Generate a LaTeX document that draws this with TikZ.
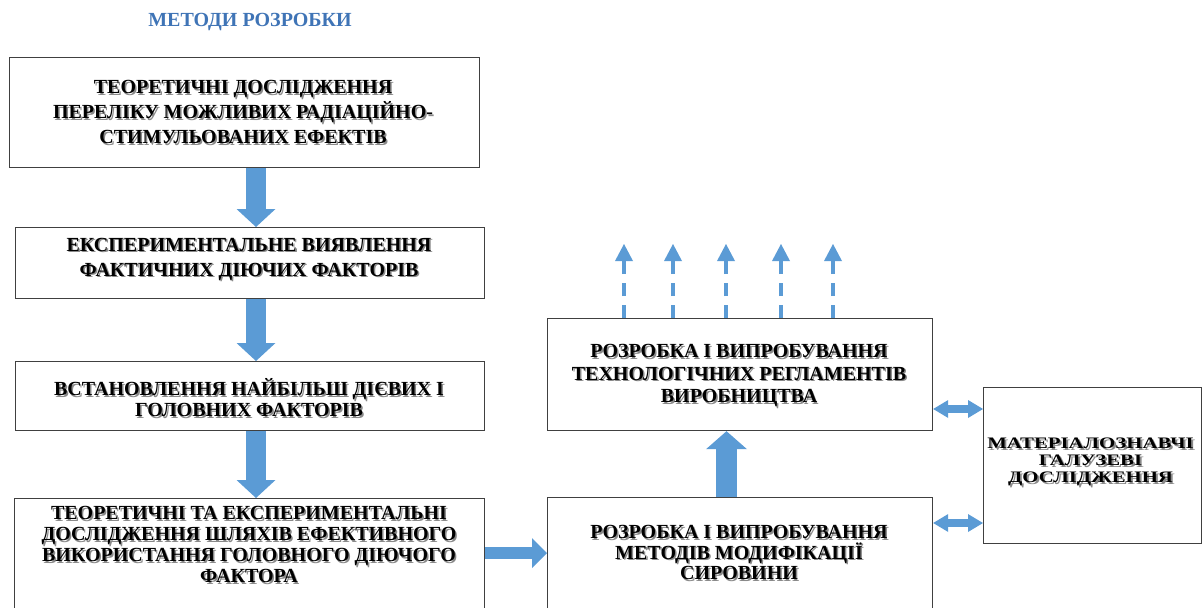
\documentclass[tikz,border=0pt]{standalone}
\usepackage{fontspec}
\setmainfont{Liberation Serif}
\usetikzlibrary{arrows.meta,calc}
\definecolor{arrowblue}{HTML}{5B9BD5}
\definecolor{titleblue}{HTML}{3F74B6}
\definecolor{boxline}{HTML}{404040}
\definecolor{shadowgray}{HTML}{8A8A8A}
% text with a soft drop shadow, one line at a time
\newcommand{\sh}[1]{\makebox[0pt][l]{\hspace{1.5pt}\raisebox{-1.5pt}{\textcolor{shadowgray}{#1}}}#1}
% wide variant for the narrow right-hand box
\newcommand{\wsh}[1]{\scalebox{1.3}[1]{\sh{#1}}}
\begin{document}
\begin{tikzpicture}[x=1pt,y=-1pt,
  box/.style={draw=boxline, line width=1.2pt, fill=white, inner sep=0, anchor=north west},
  txt/.style={align=center, inner sep=0, font=\bfseries\fontsize{20}{#1}\selectfont},
  txt/.default=21,
  blockarrow/.style 2 args={draw=arrowblue, line width=#1,
    -{Triangle[width=#2, length=18pt, line width=0pt]}},
  twoway/.style={draw=arrowblue, line width=8pt,
    {Triangle[width=18pt, length=15pt, line width=0pt]}-{Triangle[width=18pt, length=15pt, line width=0pt]}},
  dashedarrow/.style={draw=arrowblue, line width=4pt, dash pattern=on 13pt off 9pt,
    -{Triangle[width=18pt, length=17pt, line width=0pt]}}]
\useasboundingbox (0,0) rectangle (1203,608);
\clip (0,0) rectangle (1203,608);

% title
\node[font=\bfseries\fontsize{20}{22}\selectfont, text=titleblue] (title) at (250,22) {МЕТОДИ РОЗРОБКИ};

% boxes of the left column
\node[box, minimum width=470pt, minimum height=110pt] (b1) at (9,57) {};
\node[txt=25] (t1) at (243,113) {\sh{ТЕОРЕТИЧНІ ДОСЛІДЖЕННЯ}\\\sh{ПЕРЕЛІКУ МОЖЛИВИХ РАДІАЦІЙНО-}\\\sh{СТИМУЛЬОВАНИХ ЕФЕКТІВ}};

\node[box, minimum width=469pt, minimum height=71pt] (b2) at (15,227) {};
\node[txt=25] (t2) at (249,260) {\sh{ЕКСПЕРИМЕНТАЛЬНЕ ВИЯВЛЕННЯ}\\\sh{ФАКТИЧНИХ ДІЮЧИХ ФАКТОРІВ}};

\node[box, minimum width=469pt, minimum height=69pt] (b3) at (15,361) {};
\node[txt=21] (t3) at (249,398.5) {\sh{ВСТАНОВЛЕННЯ НАЙБІЛЬШ ДІЄВИХ І}\\\sh{ГОЛОВНИХ ФАКТОРІВ}};

\node[box, minimum width=470pt, minimum height=130pt] (b4) at (14,498) {};
\node[txt=21] (t4) at (249,545.5) {\sh{ТЕОРЕТИЧНІ ТА ЕКСПЕРИМЕНТАЛЬНІ}\\\sh{ДОСЛІДЖЕННЯ ШЛЯХІВ ЕФЕКТИВНОГО}\\\sh{ВИКОРИСТАННЯ ГОЛОВНОГО ДІЮЧОГО}\\\sh{ФАКТОРА}};

% boxes on the right
\node[box, minimum width=385pt, minimum height=112pt] (b5) at (547,318) {};
\node[txt=22.5] (t5) at (739,376.5) {\sh{РОЗРОБКА І ВИПРОБУВАННЯ}\\\sh{ТЕХНОЛОГІЧНИХ РЕГЛАМЕНТІВ}\\\sh{ВИРОБНИЦТВА}};

\node[box, minimum width=385pt, minimum height=130pt] (b6) at (547,497) {};
\node[txt=20.5] (t6) at (739,553.5) {\sh{РОЗРОБКА І ВИПРОБУВАННЯ}\\\sh{МЕТОДІВ МОДИФІКАЦІЇ}\\\sh{СИРОВИНИ}};

\node[box, minimum width=218pt, minimum height=156pt] (b7) at (983,387) {};
\node[align=center, inner sep=0, font=\bfseries\fontsize{16}{17}\selectfont] (t7) at (1090.5,463)
  {\wsh{МАТЕРІАЛОЗНАВЧІ}\\\wsh{ГАЛУЗЕВІ}\\\wsh{ДОСЛІДЖЕННЯ}};

% guide positions for the connectors
\coordinate (ax) at (256,0);
\coordinate (ux) at (726.5,0);
\coordinate (hy) at (0,553);
\coordinate (d1) at (0,409);
\coordinate (d2) at (0,523);
\coordinate (p1) at (624,244);
\coordinate (p2) at (673,244);
\coordinate (p3) at (726,244);
\coordinate (p4) at (781,244);
\coordinate (p5) at (833,244);

% connectors
\draw[blockarrow={20pt}{39pt}] (b1.south -| ax) -- (b2.north -| ax);
\draw[blockarrow={20pt}{39pt}] (b2.south -| ax) -- (b3.north -| ax);
\draw[blockarrow={20pt}{39pt}] (b3.south -| ax) -- (b4.north -| ax);
\draw[draw=arrowblue, line width=12pt, -{Triangle[width=30pt, length=15pt, line width=0pt]}] (b4.east |- hy) -- (b6.west |- hy);
\draw[blockarrow={21pt}{41pt}] (b6.north -| ux) -- (b5.south -| ux);
\draw[twoway] (b5.east |- d1) -- (b7.west |- d1);
\draw[twoway] (b6.east |- d2) -- (b7.west |- d2);
\foreach \p in {p1,p2,p3,p4,p5}
  \draw[dashedarrow] (b5.north -| \p) -- (\p);
\end{tikzpicture}
\end{document}
